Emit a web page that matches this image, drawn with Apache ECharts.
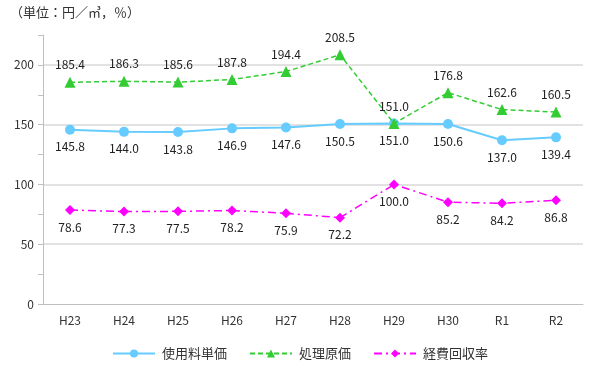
<!DOCTYPE html>
<html><head><meta charset="utf-8">
<script src="https://cdn.jsdelivr.net/npm/echarts@6/dist/echarts.min.js"></script>
<style>html,body{margin:0;padding:0;background:#fff}#c{width:600px;height:375px}</style>
</head><body><div id="c"></div>
<script>
const categories = ['H23','H24','H25','H26','H27','H28','H29','H30','R1','R2'];
const unitPrice = [145.8,144.0,143.8,146.9,147.6,150.5,151.0,150.6,137.0,139.4];
const costPrice = [185.4,186.3,185.6,187.8,194.4,208.5,151.0,176.8,162.6,160.5];
const recoveryRate = [78.6,77.3,77.5,78.2,75.9,72.2,100.0,85.2,84.2,86.8];
const seriesNames = ['使用料単価','処理原価','経費回収率'];
const unitTitle = '（単位：円／㎥，％）';

const font = '"Noto Sans CJK JP", "Noto Sans", sans-serif';
const chart = echarts.init(document.getElementById('c'));
const lbl = (pos) => ({show:true, position:pos, distance:6, color:'#222', fontSize:12, fontFamily:font, formatter:p=>p.value.toFixed(1)});
chart.setOption({
  animation:false,
  textStyle:{fontFamily:font},
  graphic:[{type:'text', left:10, top:6, style:{text:unitTitle, fill:'#333', font:'13px '+font}}],
  legend:{bottom:10, left:'center', itemWidth:42, itemHeight:10, itemGap:22,
    textStyle:{fontSize:13, color:'#333', fontFamily:font, padding:[0,0,0,2]},
    data:seriesNames},
  grid:{left:43, right:17, top:35, bottom:71},
  xAxis:{type:'category', data:categories, boundaryGap:true,
    axisLine:{lineStyle:{color:'#bfbfbf', width:1}}, axisTick:{show:false},
    axisLabel:{color:'#333', fontSize:12, margin:10, fontFamily:font}},
  yAxis:[
    {type:'value', min:0, max:225, interval:25,
     axisLine:{show:true, lineStyle:{color:'#bfbfbf'}},
     axisTick:{show:true, length:5, lineStyle:{color:'#bfbfbf'}},
     splitLine:{show:false},
     axisLabel:{color:'#333', fontSize:12, margin:9, fontFamily:font, formatter:v=> (v%50===0 && v<=200)? String(v):''}},
    {type:'value', min:0, max:225, interval:50, position:'left',
     axisLine:{show:false}, axisTick:{show:false}, axisLabel:{show:false},
     splitLine:{show:true, showMinLine:false, showMaxLine:false, lineStyle:{color:'#d9d9d9', width:1.5}}}
  ],
  series:[
    {name:seriesNames[0], type:'line', data:unitPrice, symbol:'circle', symbolSize:10,
     itemStyle:{color:'#66ccff'}, lineStyle:{color:'#66ccff', width:2},
     label:lbl('bottom'), z:3},
    {name:seriesNames[1], type:'line', data:costPrice, symbol:'triangle', symbolSize:11,
     itemStyle:{color:'#33cc33'}, lineStyle:{color:'#33cc33', width:1.5, type:[5,3]},
     label:lbl('top'), z:4},
    {name:seriesNames[2], type:'line', data:recoveryRate, symbol:'diamond', symbolSize:10,
     itemStyle:{color:'#ff00ff'}, lineStyle:{color:'#ff00ff', width:1.5, type:[8,4,2,4]},
     label:lbl('bottom'), z:3}
  ]
});
</script></body></html>
